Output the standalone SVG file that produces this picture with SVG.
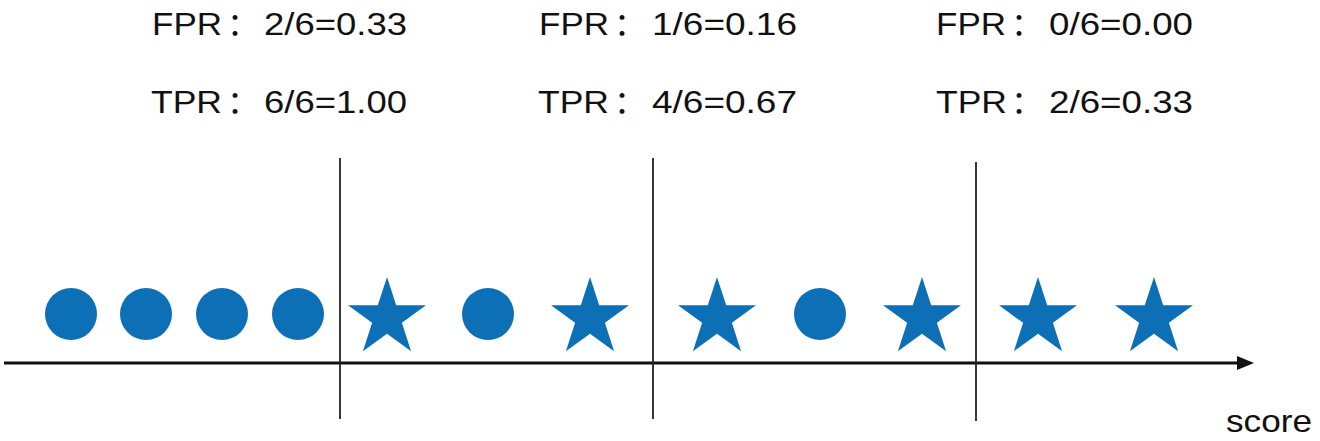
<svg xmlns="http://www.w3.org/2000/svg" xmlns:xlink="http://www.w3.org/1999/xlink" width="1320" height="441" viewBox="0 0 1320 441">
<style>
.lbl{font-family:"Liberation Sans","Noto Sans CJK SC",sans-serif;font-size:32px;fill:#111}
.col{font-family:"Noto Sans CJK SC",sans-serif}
.sym{fill:#0d6fb6}
.vline{stroke:#222;stroke-width:1.8}
.axis{stroke:#111;stroke-width:3}
</style>
<defs>
<path id="star" d="M0,-41 L9.21,-12.67 L38.99,-12.67 L14.9,4.84 L24.1,33.17 L0,15.66 L-24.1,33.17 L-14.9,4.84 L-38.99,-12.67 L-9.21,-12.67 Z"/>
</defs>
<g id="labels">
<text class="lbl" y="35"><tspan x="152" textLength="70" lengthAdjust="spacingAndGlyphs">FPR</tspan><tspan class="col" x="227">：</tspan><tspan x="264" textLength="143" lengthAdjust="spacingAndGlyphs">2/6=0.33</tspan></text>
<text class="lbl" y="113"><tspan x="151" textLength="71" lengthAdjust="spacingAndGlyphs">TPR</tspan><tspan class="col" x="227">：</tspan><tspan x="264" textLength="143" lengthAdjust="spacingAndGlyphs">6/6=1.00</tspan></text>
<text class="lbl" y="35"><tspan x="539" textLength="70" lengthAdjust="spacingAndGlyphs">FPR</tspan><tspan class="col" x="614">：</tspan><tspan x="652" textLength="145" lengthAdjust="spacingAndGlyphs">1/6=0.16</tspan></text>
<text class="lbl" y="113"><tspan x="538" textLength="71" lengthAdjust="spacingAndGlyphs">TPR</tspan><tspan class="col" x="614">：</tspan><tspan x="652" textLength="145" lengthAdjust="spacingAndGlyphs">4/6=0.67</tspan></text>
<text class="lbl" y="35"><tspan x="936" textLength="70" lengthAdjust="spacingAndGlyphs">FPR</tspan><tspan class="col" x="1011">：</tspan><tspan x="1049" textLength="144" lengthAdjust="spacingAndGlyphs">0/6=0.00</tspan></text>
<text class="lbl" y="113"><tspan x="936" textLength="71" lengthAdjust="spacingAndGlyphs">TPR</tspan><tspan class="col" x="1011">：</tspan><tspan x="1049" textLength="144" lengthAdjust="spacingAndGlyphs">2/6=0.33</tspan></text>
<text class="lbl" x="1226" y="432" font-size="38" textLength="86" lengthAdjust="spacingAndGlyphs">score</text>
</g>
<g id="connectors">
<line class="axis" x1="4" y1="363" x2="1240" y2="363"/>
<polygon points="1254,363 1237,356 1237,370" fill="#111"/>
<line class="vline" x1="340" y1="158" x2="340" y2="419"/>
<line class="vline" x1="653" y1="158" x2="653" y2="419"/>
<line class="vline" x1="976" y1="162" x2="976" y2="421"/>
</g>
<g id="symbols" class="sym">
<circle cx="71" cy="314" r="26"/>
<circle cx="146" cy="314" r="26"/>
<circle cx="222" cy="314" r="26"/>
<circle cx="298" cy="314" r="26"/>
<use xlink:href="#star" x="387" y="318"/>
<circle cx="488" cy="314" r="26"/>
<use xlink:href="#star" x="590" y="318"/>
<use xlink:href="#star" x="717" y="318"/>
<circle cx="820" cy="314" r="26"/>
<use xlink:href="#star" x="922" y="318"/>
<use xlink:href="#star" x="1038" y="318"/>
<use xlink:href="#star" x="1154" y="318"/>
</g>
</svg>
